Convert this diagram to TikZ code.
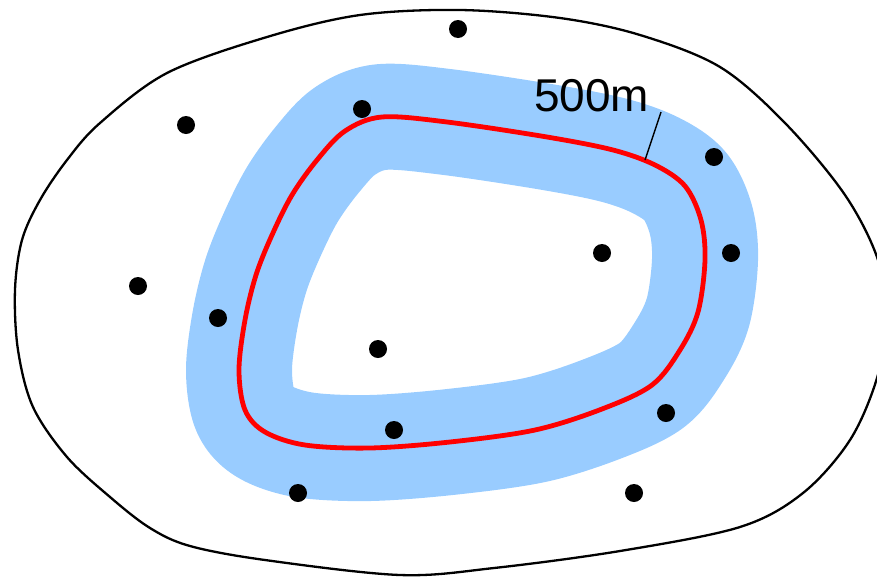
\documentclass[tikz,border=0pt]{standalone}
\usepackage{fontspec}
\setmainfont{Liberation Sans}
\definecolor{bandblue}{HTML}{99CCFF}
\definecolor{ringred}{HTML}{FF0000}
\begin{document}
\begin{tikzpicture}[x=1pt,y=-1pt,
  dot/.style={circle,fill=black,inner sep=0pt,minimum size=18pt},
  outerline/.style={draw=black,line width=2.3pt},
  band/.style={draw=bandblue,line width=106pt,line join=round},
  ring/.style={draw=ringred,line width=4.8pt},
  leader/.style={draw=black,line width=1.4pt}]
\useasboundingbox (0,0) rectangle (877,576);
\begin{scope}
\clip (0,0) rectangle (877,576);
% outer boundary
\draw[outerline] plot[smooth cycle,tension=0.55] coordinates {
 (460,10) (560,18) (640,35) (720,67) (785,123) (845,195) (878,260) (886,320)
 (877,378) (850,440) (803,493) (740,527) (620,551) (494,568) (400,575)
 (265,560) (190,546) (150,528) (110,497) (67,457) (33,407) (18,350)
 (15,290) (22,240) (40,200) (67,160) (100,123) (167,73) (267,37) (360,15)};
% band and ring
\def\ringpath{plot[smooth cycle,tension=0.55] coordinates {
 (447,122) (547,137) (613,150) (655,165) (685,186) (701,220) (705,260)
 (698,312) (680,350) (652,385) (602,409) (535,430) (450,442) (370,448)
 (305,445) (265,432) (245,410) (239,370) (245,320) (256,275) (272,235)
 (292,195) (317,160) (345,131) (382,117)}}
\path[band] \ringpath;
\path[ring] \ringpath;
\end{scope}
% dots
\node[dot] (d1) at (458,29) {};
\node[dot] (d2) at (186,125) {};
\node[dot] (d3) at (362,109) {};
\node[dot] (d4) at (714,157) {};
\node[dot] (d5) at (602,253) {};
\node[dot] (d6) at (731,253) {};
\node[dot] (d7) at (138,286) {};
\node[dot] (d8) at (218,318) {};
\node[dot] (d9) at (378,349) {};
\node[dot] (d10) at (394,430) {};
\node[dot] (d11) at (666,413) {};
\node[dot] (d12) at (298,493) {};
\node[dot] (d13) at (634,493) {};
% label
\node[anchor=base west,inner sep=0pt,font=\fontsize{46}{50}\selectfont] (lbl) at (534,111) {500m};
\coordinate (lt) at (661,112);
\coordinate (lb) at (645,160);
\draw[leader] (lt) -- (lb);
\end{tikzpicture}
\end{document}
